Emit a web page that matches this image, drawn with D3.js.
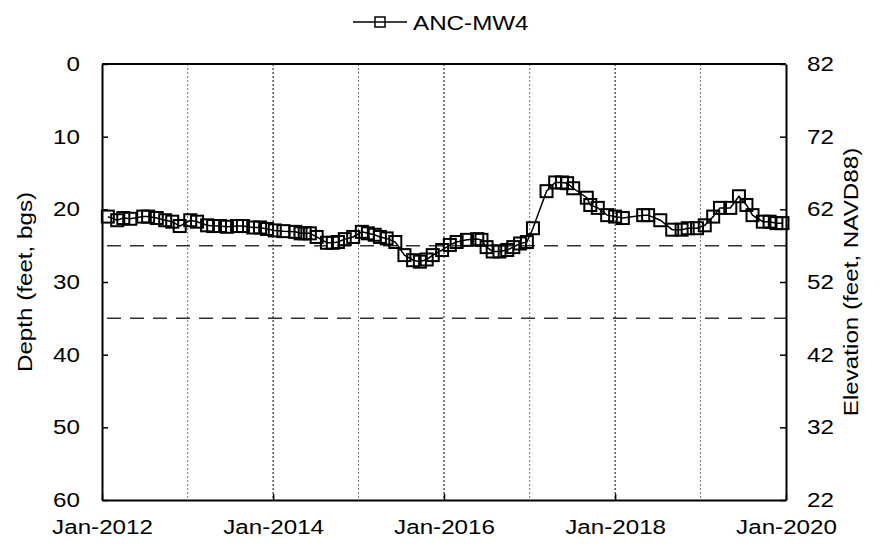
<!DOCTYPE html>
<html><head><meta charset="utf-8">
<script src="https://cdn.jsdelivr.net/npm/d3@7"></script>
<style>body{margin:0;background:#fff}svg{display:block}text{font-family:"Liberation Sans",Arial,sans-serif}</style>
</head><body><svg id="c" width="885" height="551"></svg>
<script>
const seriesName = "ANC-MW4";
const dates = ["2012-01-26","2012-03-06","2012-04-01","2012-05-01","2012-06-25","2012-07-16","2012-08-22","2012-09-27","2012-10-27","2012-11-28",
"2013-01-12","2013-02-10","2013-03-25","2013-04-20","2013-05-19","2013-06-18","2013-07-31","2013-08-25","2013-10-08","2013-11-06","2013-12-06",
"2014-01-08","2014-02-14","2014-04-06","2014-04-28","2014-05-16","2014-06-07","2014-07-06","2014-08-19","2014-09-13","2014-10-05","2014-11-03","2014-12-09",
"2015-01-15","2015-02-10","2015-03-11","2015-04-02","2015-05-01","2015-06-07","2015-07-16","2015-08-22","2015-09-20","2015-10-19","2015-11-14","2015-12-24",
"2016-01-26","2016-02-24","2016-04-08","2016-05-22","2016-06-09","2016-07-01","2016-07-27","2016-08-25","2016-09-27","2016-10-23","2016-11-21","2016-12-20",
"2017-01-15","2017-03-14","2017-04-20","2017-05-19","2017-06-10","2017-07-06","2017-09-02","2017-09-17","2017-10-19","2017-11-28",
"2018-01-01","2018-02-03","2018-05-01","2018-05-22","2018-07-13","2018-09-02","2018-10-12","2018-11-07","2018-12-17",
"2019-01-19","2019-02-24","2019-03-25","2019-05-08","2019-06-14","2019-07-16","2019-08-11","2019-09-24","2019-10-23","2019-11-21","2019-12-17"];
const depths = [21.0,21.5,21.2,21.3,21.0,21.0,21.2,21.5,21.7,22.3,
21.5,21.7,22.2,22.3,22.3,22.4,22.3,22.3,22.5,22.5,22.7,
22.9,23.0,23.1,23.3,23.3,23.3,23.8,24.6,24.6,24.5,24.1,23.8,
23.1,23.3,23.5,23.8,24.0,24.5,26.3,27.0,27.2,26.9,26.3,25.6,
24.9,24.5,24.2,24.1,24.2,25.2,25.8,25.8,25.6,25.2,24.7,24.5,
22.6,17.5,16.3,16.3,16.4,17.1,18.4,19.4,19.8,20.8,
21.0,21.2,20.8,20.8,21.5,22.8,22.8,22.6,22.6,
22.2,21.0,19.8,19.8,18.2,19.4,20.8,21.7,21.7,21.9,21.9];
const refDepths = [25, 35];
const depthTicks = [0,10,20,30,40,50,60];
const elevTicks = [82,72,62,52,42,32,22];
const xLabelYears = [2012,2014,2016,2018,2020];
const gridYears = [2013,2014,2015,2016,2017,2018,2019];

const svg = d3.select("#c");
const L=102, R=786, T=64, B=500;
const FS = 20.5, STRETCH = 1.18;
const parse = d3.timeParse("%Y-%m-%d");
const data = dates.map((d,i)=>({date:parse(d), depth:depths[i]}));
const x = d3.scaleTime().domain([new Date(2012,0,1), new Date(2020,0,1)]).range([L,R]);
const y = d3.scaleLinear().domain([0,60]).range([T,B]);
const yR = d3.scaleLinear().domain([82,22]).range([T,B]);

svg.append("g").selectAll("line").data(gridYears).join("line")
  .attr("x1",d=>x(new Date(d,0,1))).attr("x2",d=>x(new Date(d,0,1)))
  .attr("y1",T).attr("y2",B)
  .attr("stroke",d=>d%2===0?"#000":"#777").attr("stroke-width",1).attr("stroke-dasharray","2,2");

svg.append("g").selectAll("line").data(refDepths).join("line")
  .attr("x1",L).attr("x2",R).attr("y1",d=>y(d)).attr("y2",d=>y(d))
  .attr("stroke","#333").attr("stroke-width",1.5).attr("stroke-dasharray","14,9").attr("stroke-dashoffset",-5);

const fmt = d3.timeFormat("Jan-%Y");
const xAxis = d3.axisBottom(x).tickValues(xLabelYears.map(yv=>new Date(yv,0,1))).tickFormat(fmt).tickSizeInner(-6).tickSizeOuter(0).tickPadding(19);
const gx = svg.append("g").attr("transform",`translate(0,${B})`).call(xAxis);
const yAxisL = d3.axisLeft(y).tickValues(depthTicks).tickSizeInner(-6).tickSizeOuter(0).tickPadding(22);
const gl = svg.append("g").attr("transform",`translate(${L},0)`).call(yAxisL);
const yAxisR = d3.axisRight(yR).tickValues(elevTicks).tickSizeInner(-6).tickSizeOuter(0).tickPadding(21);
const gr = svg.append("g").attr("transform",`translate(${R},0)`).call(yAxisR);
[gx,gl,gr].forEach(g=>{
  g.select(".domain").attr("stroke","#000").attr("stroke-width",2);
  g.selectAll(".tick line").attr("stroke","#000").attr("stroke-width",1.5);
  g.selectAll("text").attr("font-size",FS).attr("fill","#000").attr("font-family","'Liberation Sans',Arial,sans-serif");
});
svg.append("line").attr("x1",L).attr("x2",R).attr("y1",T).attr("y2",T).attr("stroke","#000").attr("stroke-width",2);

svg.append("text").attr("transform",`translate(32,${(T+B)/2}) rotate(-90)`).attr("text-anchor","middle")
  .attr("font-size",FS).text("Depth (feet, bgs)");
svg.append("text").attr("transform",`translate(858,${(T+B)/2}) rotate(-90)`).attr("text-anchor","middle")
  .attr("font-size",FS).text("Elevation (feet, NAVD88)");

const line = d3.line().x(d=>x(d.date)).y(d=>y(d.depth));
svg.append("path").datum(data).attr("d",line).attr("fill","none").attr("stroke","#000").attr("stroke-width",1.5);
const S=12;
svg.append("g").selectAll("rect").data(data).join("rect")
  .attr("x",d=>x(d.date)-S/2).attr("y",d=>y(d.depth)-S/2).attr("width",S).attr("height",S)
  .attr("fill","none").attr("stroke","#000").attr("stroke-width",2);

const lg = svg.append("g");
lg.append("line").attr("x1",353).attr("x2",407).attr("y1",22).attr("y2",22).attr("stroke","#000").attr("stroke-width",1.5);
lg.append("rect").attr("x",375).attr("y",17).attr("width",10).attr("height",10).attr("fill","none").attr("stroke","#000").attr("stroke-width",1.5);
lg.append("text").attr("x",413).attr("y",29.5).attr("font-size",FS).text(seriesName);

svg.selectAll("text").each(function(){
  const len = this.getComputedTextLength();
  d3.select(this).attr("textLength", len*STRETCH).attr("lengthAdjust","spacingAndGlyphs");
});
</script></body></html>
